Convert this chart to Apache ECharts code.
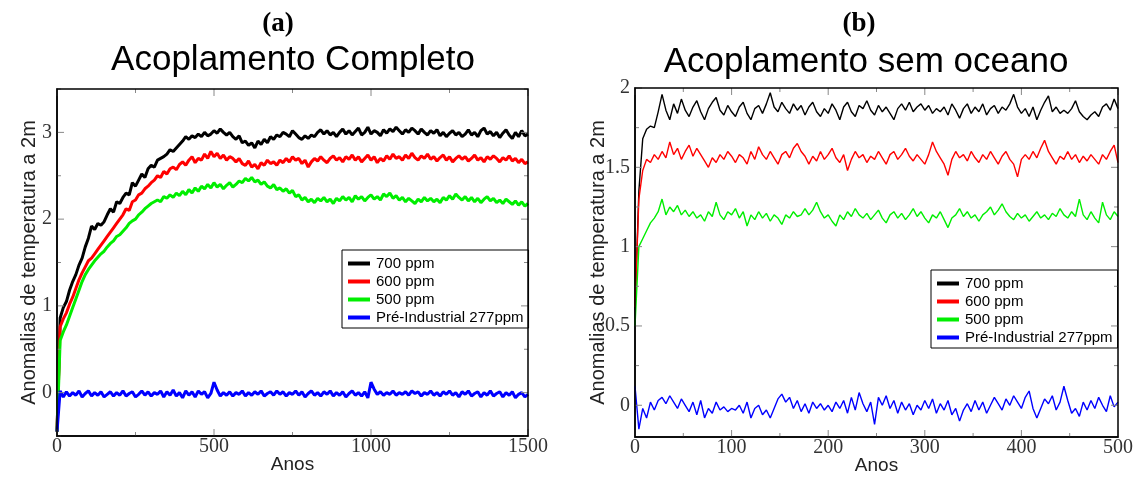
<!DOCTYPE html>
<html>
<head>
<meta charset="utf-8">
<script src="https://cdn.jsdelivr.net/npm/echarts@6/dist/echarts.min.js"></script>
<style>
html,body{margin:0;padding:0;background:#fff;}
#chart{width:1141px;height:484px;}
</style>
</head>
<body>
<div id="chart"></div>
<script>
// ---------------- DATA ----------------
const seriesNames = ['700 ppm', '600 ppm', '500 ppm', 'Pré-Industrial 277ppm'];
const seriesColors = ['#000000', '#ff0000', '#00ee00', '#0000ff'];

// Panel (a): one value every 10 years, 0..1500
const stepA = 10;
const a700 = [
-0.45,0.86,0.98,1.05,1.18,1.28,1.36,1.47,1.55,1.68,
1.78,1.92,1.88,1.95,1.93,1.97,2.05,2.12,2.08,2.2,
2.18,2.25,2.3,2.28,2.42,2.38,2.45,2.52,2.48,2.58,
2.62,2.6,2.68,2.7,2.72,2.75,2.8,2.78,2.82,2.86,
2.9,2.95,2.92,2.96,2.94,2.98,2.95,3.0,2.96,2.98,
3.02,2.99,3.04,3.0,2.97,3.0,2.95,2.92,2.96,2.88,
2.9,2.85,2.88,2.82,2.9,2.86,2.92,2.88,2.95,2.92,
2.97,2.95,3.0,2.98,2.95,3.02,2.98,2.94,2.92,2.96,
2.93,2.97,2.95,3.0,3.03,2.98,3.02,2.97,3.0,2.95,
3.0,3.04,2.98,3.02,2.97,3.01,3.05,2.97,3.0,3.06,
2.98,3.02,3.0,2.96,3.03,2.99,3.04,3.01,3.06,3.02,
2.98,3.03,3.0,3.05,3.02,2.98,3.04,3.0,2.97,3.02,
2.99,3.03,2.96,3.0,2.95,2.99,3.02,2.97,3.0,2.95,
2.98,3.03,2.97,3.0,2.95,3.02,3.05,2.98,3.01,2.96,
3.0,2.94,2.99,3.03,2.97,2.93,3.0,2.95,3.02,2.96,
2.98];
const a600 = [
-0.45,0.76,0.85,0.92,1.02,1.1,1.2,1.3,1.38,1.45,
1.52,1.55,1.6,1.65,1.7,1.75,1.8,1.85,1.9,1.95,
2.0,2.05,2.12,2.1,2.2,2.22,2.28,2.3,2.35,2.38,
2.42,2.45,2.5,2.48,2.55,2.52,2.58,2.6,2.57,2.63,
2.66,2.62,2.68,2.72,2.65,2.7,2.68,2.75,2.7,2.78,
2.72,2.76,2.7,2.74,2.68,2.72,2.7,2.66,2.7,2.64,
2.62,2.67,2.6,2.63,2.58,2.65,2.62,2.68,2.64,2.66,
2.62,2.68,2.65,2.7,2.66,2.72,2.68,2.7,2.64,2.68,
2.6,2.66,2.7,2.67,2.72,2.68,2.65,2.7,2.73,2.68,
2.71,2.66,2.72,2.69,2.74,2.68,2.72,2.66,2.7,2.74,
2.68,2.72,2.65,2.7,2.67,2.73,2.69,2.75,2.7,2.72,
2.68,2.74,2.7,2.76,2.71,2.68,2.73,2.7,2.75,2.69,
2.72,2.67,2.71,2.74,2.68,2.72,2.66,2.7,2.73,2.69,
2.72,2.67,2.7,2.74,2.68,2.71,2.66,2.72,2.69,2.73,
2.7,2.66,2.71,2.68,2.73,2.67,2.7,2.65,2.69,2.64,
2.66];
const a500 = [
-0.45,0.6,0.7,0.78,0.88,0.98,1.08,1.18,1.28,1.36,
1.42,1.47,1.52,1.56,1.6,1.63,1.68,1.72,1.75,1.8,
1.82,1.86,1.9,1.95,1.98,2.0,2.05,2.08,2.12,2.15,
2.18,2.2,2.22,2.2,2.26,2.24,2.28,2.25,2.3,2.27,
2.32,2.28,2.34,2.3,2.36,2.32,2.38,2.35,2.4,2.36,
2.42,2.37,2.4,2.35,2.39,2.42,2.37,2.4,2.44,2.42,
2.47,2.44,2.48,2.43,2.45,2.4,2.43,2.38,2.36,2.4,
2.34,2.36,2.32,2.35,2.3,2.33,2.26,2.28,2.22,2.25,
2.2,2.23,2.19,2.24,2.21,2.25,2.2,2.23,2.18,2.24,
2.21,2.26,2.22,2.25,2.2,2.27,2.23,2.26,2.21,2.25,
2.28,2.23,2.26,2.22,2.29,2.26,2.3,2.24,2.27,2.22,
2.25,2.2,2.24,2.21,2.18,2.23,2.2,2.25,2.21,2.24,
2.2,2.23,2.19,2.25,2.22,2.27,2.23,2.29,2.25,2.22,
2.26,2.21,2.25,2.2,2.24,2.19,2.23,2.26,2.21,2.24,
2.19,2.22,2.18,2.23,2.2,2.17,2.21,2.16,2.2,2.15,
2.18];
const a277 = [
-0.45,0.02,-0.05,0.01,-0.04,0.0,-0.03,0.02,-0.05,-0.01,
0.02,-0.04,0.0,-0.03,0.01,-0.05,-0.02,0.01,-0.04,0.0,
-0.03,0.02,-0.04,-0.01,0.01,-0.05,-0.02,0.02,-0.03,0.01,
-0.04,0.0,-0.02,0.02,-0.05,0.01,-0.03,0.03,-0.04,0.0,
-0.06,0.02,-0.03,0.01,-0.05,0.02,-0.02,0.01,-0.06,-0.01,
0.12,0.03,-0.04,0.0,-0.03,0.01,-0.04,0.0,-0.02,0.02,
-0.04,0.0,-0.03,0.01,-0.02,0.02,-0.04,-0.01,0.01,-0.03,
0.02,-0.02,0.01,-0.04,0.0,-0.02,0.02,-0.03,0.01,-0.05,
-0.01,0.02,-0.03,0.0,-0.04,0.01,-0.02,0.02,-0.04,0.0,
-0.03,0.01,-0.05,-0.01,0.02,-0.03,0.0,-0.04,0.01,-0.06,
0.12,0.04,-0.02,0.01,-0.03,0.0,-0.02,0.02,-0.03,0.0,
-0.02,0.01,-0.03,0.02,-0.01,0.01,-0.04,0.0,-0.02,0.02,
-0.03,0.0,-0.04,0.01,-0.02,0.02,-0.03,0.0,-0.05,0.01,
-0.02,0.02,-0.04,-0.01,0.01,-0.05,0.0,-0.03,0.02,-0.04,
-0.01,0.01,-0.05,0.0,-0.03,0.01,-0.06,-0.02,0.0,-0.05,
-0.02];

// Panel (b): one value every 4 years, 0..500
const stepB = 4;
const b700 = [
0.6,1.35,1.68,1.74,1.76,1.75,1.85,1.96,1.86,1.8,
1.9,1.84,1.93,1.86,1.82,1.88,1.92,1.85,1.8,1.87,
1.91,1.94,1.86,1.83,1.89,1.85,1.82,1.88,1.91,1.84,
1.8,1.87,1.89,1.84,1.9,1.97,1.88,1.85,1.91,1.87,
1.84,1.9,1.86,1.89,1.83,1.88,1.91,1.85,1.82,1.87,
1.84,1.9,1.86,1.8,1.88,1.91,1.85,1.82,1.89,1.87,
1.92,1.86,1.83,1.89,1.85,1.88,1.84,1.8,1.87,1.9,
1.86,1.91,1.85,1.88,1.9,1.86,1.89,1.84,1.87,1.85,
1.88,1.83,1.9,1.86,1.81,1.87,1.9,1.84,1.88,1.85,
1.9,1.83,1.87,1.89,1.84,1.88,1.86,1.9,1.96,1.88,
1.84,1.87,1.82,1.88,1.8,1.86,1.91,1.95,1.85,1.88,
1.84,1.86,1.84,1.87,1.92,1.85,1.82,1.8,1.83,1.85,
1.82,1.88,1.9,1.86,1.93,1.87];
const b600 = [
0.62,1.3,1.48,1.55,1.53,1.58,1.55,1.6,1.56,1.66,
1.58,1.62,1.55,1.6,1.64,1.57,1.62,1.58,1.54,1.5,
1.56,1.53,1.58,1.55,1.6,1.57,1.53,1.58,1.56,1.52,
1.6,1.55,1.63,1.58,1.55,1.6,1.56,1.52,1.58,1.6,
1.56,1.62,1.65,1.6,1.57,1.52,1.57,1.54,1.6,1.55,
1.58,1.62,1.56,1.53,1.58,1.48,1.55,1.6,1.56,1.58,
1.53,1.57,1.55,1.6,1.56,1.52,1.58,1.6,1.55,1.58,
1.62,1.57,1.54,1.58,1.55,1.52,1.58,1.66,1.6,1.56,
1.52,1.45,1.55,1.6,1.56,1.58,1.54,1.6,1.56,1.53,
1.58,1.55,1.6,1.56,1.52,1.57,1.6,1.55,1.52,1.44,
1.55,1.58,1.55,1.6,1.56,1.62,1.67,1.6,1.56,1.52,
1.57,1.55,1.6,1.55,1.58,1.53,1.57,1.54,1.58,1.55,
1.52,1.58,1.55,1.6,1.64,1.53];
const b500 = [
0.5,1.0,1.05,1.1,1.15,1.18,1.22,1.3,1.2,1.25,
1.22,1.26,1.2,1.23,1.19,1.22,1.18,1.2,1.16,1.22,
1.19,1.28,1.2,1.17,1.22,1.2,1.24,1.18,1.22,1.13,
1.2,1.17,1.22,1.18,1.21,1.16,1.2,1.18,1.14,1.2,
1.18,1.22,1.19,1.2,1.24,1.2,1.23,1.28,1.22,1.18,
1.2,1.16,1.13,1.2,1.17,1.22,1.19,1.24,1.2,1.18,
1.21,1.17,1.2,1.23,1.18,1.15,1.2,1.22,1.18,1.21,
1.17,1.2,1.24,1.19,1.22,1.18,1.15,1.2,1.18,1.22,
1.17,1.12,1.18,1.2,1.24,1.19,1.22,1.18,1.2,1.16,
1.2,1.22,1.25,1.2,1.23,1.27,1.22,1.19,1.17,1.21,
1.18,1.2,1.16,1.19,1.22,1.18,1.2,1.17,1.21,1.19,
1.24,1.2,1.18,1.22,1.19,1.3,1.2,1.17,1.22,1.18,
1.15,1.28,1.2,1.17,1.22,1.19];
const b277 = [
0.12,-0.15,-0.02,-0.08,0.02,-0.03,0.03,0.05,0.01,0.06,
0.02,-0.02,0.04,0.0,-0.04,0.02,-0.06,0.03,-0.08,-0.02,
-0.05,0.02,-0.03,-0.01,-0.04,-0.02,-0.03,0.0,-0.05,0.02,
-0.08,-0.02,0.0,-0.06,-0.03,-0.08,-0.02,0.04,0.07,0.02,
0.05,-0.02,0.03,-0.04,0.01,-0.05,0.02,-0.02,0.01,-0.03,
0.0,-0.04,0.02,-0.02,0.03,-0.05,0.05,-0.03,0.08,0.01,
-0.04,0.02,-0.12,0.05,0.0,0.06,-0.02,0.03,-0.05,0.02,
-0.03,0.01,-0.06,0.0,-0.03,0.03,-0.02,0.04,-0.05,0.01,
-0.03,0.03,-0.06,-0.02,-0.1,-0.03,0.01,-0.04,0.03,-0.03,
0.02,-0.05,0.0,0.05,0.01,-0.03,0.04,0.0,0.06,0.02,
-0.02,0.05,0.09,-0.02,-0.08,-0.02,0.04,0.01,0.06,-0.03,
0.02,0.12,0.03,-0.05,-0.02,-0.07,0.02,-0.03,0.03,-0.02,
0.05,0.0,-0.04,0.06,-0.01,0.02];

// Axis tick values
const aYLabels = [0, 1, 2, 3];
const aYMinor = [-0.5, 0.5, 1.5, 2.5, 3.5];
const aXLabels = [0, 500, 1000, 1500];
const aXMinor = [250, 750, 1250];
const bYLabels = [0, 0.5, 1, 1.5, 2];
const bYMinor = [0.25, 0.75, 1.25, 1.75];
const bXLabels = [0, 100, 200, 300, 400, 500];
const bXMinor = [50, 150, 250, 350, 450];

// ---------------- CHART ----------------
const chart = echarts.init(document.getElementById('chart'), null, {renderer: 'canvas'});
const toXY = (vals, step) => vals.map((v, i) => [i * step, v]);

const serif = 'Liberation Serif, Times New Roman, serif';
const sans = 'Liberation Sans, Arial, sans-serif';
const yName = 'Anomalias de temperatura a 2m';
const plain = v => String(v);

function xAxis(gi, max, labels) {
  return {
    type: 'value', gridIndex: gi, min: 0, max: max, position: 'bottom',
    splitLine: {show: false},
    axisLine: {show: true, onZero: false, lineStyle: {color: '#000', width: 1.5}},
    axisTick: {show: false},
    name: 'Anos', nameLocation: 'middle', nameGap: 19, nameMoveOverlap: false,
    nameTextStyle: {fontFamily: sans, fontSize: 19, color: '#222'},
    axisLabel: {fontFamily: serif, fontSize: 20, color: '#333', margin: 1, customValues: labels, formatter: plain}
  };
}
function yAxis(gi, min, max, labels, nameGap) {
  return {
    type: 'value', gridIndex: gi, min: min, max: max, position: 'left',
    splitLine: {show: false},
    axisLine: {show: true, onZero: false, lineStyle: {color: '#000', width: 1.5}},
    axisTick: {show: false},
    name: yName, nameLocation: 'middle', nameGap: nameGap, nameRotate: 90, nameMoveOverlap: false,
    nameTextStyle: {fontFamily: sans, fontSize: 20, color: '#222'},
    axisLabel: {fontFamily: serif, fontSize: 20, color: '#333', margin: 5, customValues: labels, formatter: plain}
  };
}

const aData = [a700, a600, a500, a277];
const bData = [b700, b600, b500, b277];
const series = [];
aData.forEach((vals, k) => series.push({
  name: seriesNames[k], type: 'line', xAxisIndex: 0, yAxisIndex: 0,
  data: toXY(vals, stepA), showSymbol: false, symbol: 'none',
  lineStyle: {color: seriesColors[k], width: 3}, itemStyle: {color: seriesColors[k]},
  animation: false, clip: true
}));
bData.forEach((vals, k) => series.push({
  name: seriesNames[k], type: 'line', xAxisIndex: 1, yAxisIndex: 1,
  data: toXY(vals, stepB), showSymbol: false, symbol: 'none',
  lineStyle: {color: seriesColors[k], width: 1.4}, itemStyle: {color: seriesColors[k]},
  animation: false, clip: true
}));

function legend(left, top) {
  return {
    left: left, top: top, orient: 'vertical', data: seriesNames,
    icon: 'rect', itemWidth: 22, itemHeight: 4, itemGap: 3,
    padding: [6, 5, 3, 6], borderColor: '#000', borderWidth: 1, backgroundColor: '#fff',
    textStyle: {fontFamily: sans, fontSize: 15, color: '#000', padding: [0, 0, 0, 1]},
    selectedMode: false
  };
}

chart.setOption({
  backgroundColor: '#fff',
  animation: false,
  grid: [
    {left: 57, right: 1141 - 528, top: 89, bottom: 484 - 436},
    {left: 635, right: 1141 - 1118, top: 88, bottom: 484 - 437}
  ],
  xAxis: [xAxis(0, 1500, aXLabels), xAxis(1, 500, bXLabels)],
  yAxis: [yAxis(0, -0.5, 3.5, aYLabels, 18), yAxis(1, -0.2, 2, bYLabels, 27)],
  legend: [legend(342, 250), legend(931, 270)],
  series: series
});

// Frame and inward ticks on all four sides, positioned with the axes' own scales
function frame(ai, xMin, xMax, yMin, yMax, xMaj, xMnr, yMaj, yMnr) {
  const px = v => chart.convertToPixel({xAxisIndex: ai}, v);
  const py = v => chart.convertToPixel({yAxisIndex: ai}, v);
  const L = px(xMin), R = px(xMax), B = py(yMin), T = py(yMax);
  const els = [];
  const tick = (x1, y1, x2, y2) => els.push({type: 'line', silent: true, z: 5,
    shape: {x1: x1, y1: y1, x2: x2, y2: y2}, style: {stroke: '#888', lineWidth: 1}});
  xMaj.forEach(v => { const x = px(v); tick(x, B, x, B - 7); tick(x, T, x, T + 7); });
  xMnr.forEach(v => { const x = px(v); tick(x, B, x, B - 4); tick(x, T, x, T + 4); });
  yMaj.forEach(v => { const y = py(v); tick(L, y, L + 7, y); tick(R, y, R - 7, y); });
  yMnr.forEach(v => { const y = py(v); tick(L, y, L + 4, y); tick(R, y, R - 4, y); });
  els.push({type: 'rect', silent: true, z: 6, shape: {x: L, y: T, width: R - L, height: B - T},
    style: {fill: null, stroke: '#000', lineWidth: 1.5}});
  return els;
}

const titles = [
  {type: 'text', x: 278, y: 24, style: {text: '(a)', font: 'bold 27px ' + serif, fill: '#000', textAlign: 'center', textVerticalAlign: 'middle'}},
  {type: 'text', x: 293, y: 60, style: {text: 'Acoplamento Completo', font: '35px ' + sans, fill: '#000', textAlign: 'center', textVerticalAlign: 'middle'}},
  {type: 'text', x: 859, y: 24, style: {text: '(b)', font: 'bold 27px ' + serif, fill: '#000', textAlign: 'center', textVerticalAlign: 'middle'}},
  {type: 'text', x: 866, y: 62, style: {text: 'Acoplamento sem oceano', font: '35px ' + sans, fill: '#000', textAlign: 'center', textVerticalAlign: 'middle'}}
];

chart.setOption({
  graphic: titles
    .concat(frame(0, 0, 1500, -0.5, 3.5, aXLabels, aXMinor, aYLabels, aYMinor))
    .concat(frame(1, 0, 500, -0.2, 2, bXLabels, bXMinor, bYLabels, bYMinor))
});
</script>
</body>
</html>
